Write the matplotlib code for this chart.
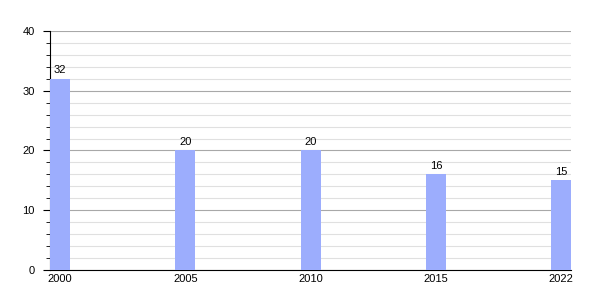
import matplotlib.pyplot as plt
import numpy as np
from matplotlib.ticker import MultipleLocator

plt.rcParams["font.family"] = ["Liberation Sans", "DejaVu Sans"]

years = ["2000", "2005", "2010", "2015", "2022"]
values = [32, 20, 20, 16, 15]

fig = plt.figure(figsize=(6, 3), dpi=100)
ax = fig.add_axes([0.0833, 0.1, 0.8687, 0.7967])

x = np.arange(len(years))
width = 0.16
ax.bar(x, values, width=width, color="#9cadfd", zorder=3)

# value labels above bars
for xi, v in zip(x, values):
    ax.text(xi, v + 0.6, str(v), ha="center", va="bottom", fontsize=8)

ax.set_xlim(-width / 2, len(years) - 1 + width / 2)
ax.set_ylim(0, 40)
ax.set_xticks(x)
ax.set_xticklabels(years, fontsize=8)
ax.tick_params(axis="x", length=0, pad=3)

ax.yaxis.set_major_locator(MultipleLocator(10))
ax.yaxis.set_minor_locator(MultipleLocator(2))
ax.tick_params(axis="y", which="major", length=5, labelsize=8, pad=6)
ax.tick_params(axis="y", which="minor", length=3)
ax.grid(axis="y", which="major", color="#a8a8a8", lw=0.8, zorder=0)
ax.grid(axis="y", which="minor", color="#e0e0e0", lw=0.8, zorder=0)

for s in ["top", "right"]:
    ax.spines[s].set_visible(False)

fig.savefig("out.png", dpi=100)
